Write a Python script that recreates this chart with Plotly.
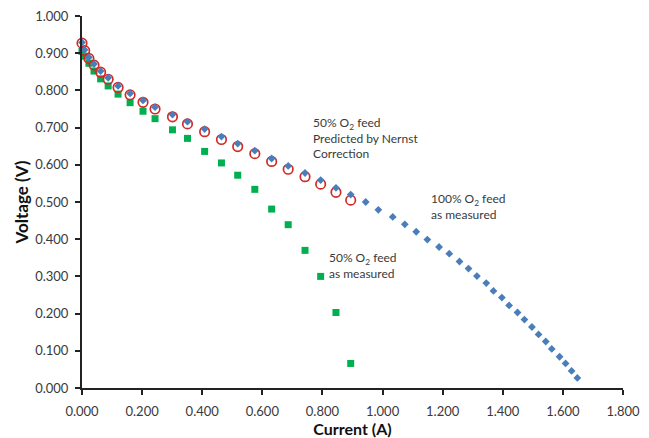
import plotly.graph_objects as go

# 100% O2 feed, as measured (blue diamonds)
current_100 = [0.000, 0.009, 0.023, 0.040, 0.062, 0.087, 0.120, 0.160, 0.203, 0.243,
               0.301, 0.351, 0.408, 0.464, 0.518, 0.575, 0.631, 0.686, 0.742, 0.794,
               0.845, 0.894, 0.944, 0.986, 1.034, 1.074, 1.112, 1.149, 1.188, 1.222,
               1.256, 1.286, 1.314, 1.345, 1.369, 1.397, 1.421, 1.449, 1.472, 1.497,
               1.519, 1.543, 1.563, 1.589, 1.609, 1.629, 1.648]
voltage_100 = [0.929, 0.909, 0.889, 0.871, 0.852, 0.834, 0.812, 0.792, 0.773, 0.755,
               0.735, 0.716, 0.696, 0.676, 0.657, 0.638, 0.617, 0.597, 0.578, 0.559,
               0.538, 0.520, 0.500, 0.479, 0.460, 0.440, 0.420, 0.399, 0.379, 0.361,
               0.340, 0.321, 0.301, 0.282, 0.261, 0.243, 0.222, 0.203, 0.184, 0.164,
               0.144, 0.125, 0.105, 0.084, 0.066, 0.046, 0.027]

# 50% O2 feed, predicted by Nernst correction (red open circles)
current_pred = [0.000, 0.009, 0.023, 0.040, 0.062, 0.087, 0.120, 0.160, 0.203, 0.243,
                0.301, 0.351, 0.408, 0.464, 0.518, 0.575, 0.631, 0.686, 0.742, 0.794,
                0.845, 0.894]
voltage_pred = [0.927, 0.907, 0.886, 0.868, 0.849, 0.830, 0.808, 0.788, 0.768, 0.750,
                0.729, 0.710, 0.689, 0.668, 0.649, 0.630, 0.609, 0.588, 0.568, 0.548,
                0.526, 0.505]

# 50% O2 feed, as measured (green squares)
current_50 = [0.000, 0.009, 0.023, 0.040, 0.062, 0.087, 0.120, 0.160, 0.203, 0.243,
              0.301, 0.351, 0.408, 0.464, 0.518, 0.575, 0.631, 0.686, 0.742, 0.794,
              0.845, 0.894]
voltage_50 = [0.905, 0.892, 0.873, 0.852, 0.831, 0.812, 0.790, 0.767, 0.744, 0.724,
              0.694, 0.671, 0.636, 0.605, 0.572, 0.534, 0.481, 0.439, 0.370, 0.300,
              0.203, 0.066]

x_ticks = [0.0, 0.2, 0.4, 0.6, 0.8, 1.0, 1.2, 1.4, 1.6, 1.8]
y_ticks = [0.0, 0.1, 0.2, 0.3, 0.4, 0.5, 0.6, 0.7, 0.8, 0.9, 1.0]

FONT = "Lato"
TXT = "#3a3a3a"

fig = go.Figure()
fig.add_trace(go.Scatter(x=current_50, y=voltage_50, mode="markers", cliponaxis=False,
                         marker=dict(symbol="square", size=7, color="#00B050"),
                         name="50% O2 feed as measured"))
fig.add_trace(go.Scatter(x=current_pred, y=voltage_pred, mode="markers", cliponaxis=False,
                         marker=dict(symbol="circle-open", size=9.5, color="#D22A25",
                                     line=dict(width=1.7, color="#D22A25")),
                         name="50% O2 feed predicted"))
fig.add_trace(go.Scatter(x=current_100, y=voltage_100, mode="markers", cliponaxis=False,
                         marker=dict(symbol="diamond", size=6, color="#4A7EBB"),
                         name="100% O2 feed as measured"))

# page has an 8px body margin; figure drawn at (8, 8)
OFF = 8
W, H = 641, 430
L, R, T, B = 74, 26, 8, 50
annots = [
    dict(x=311, y=113, text="50% O<sub>2</sub> feed<br>Predicted by Nernst<br>Correction"),
    dict(x=429, y=189, text="100% O<sub>2</sub> feed<br>as measured"),
    dict(x=327, y=248, text="50% O<sub>2</sub> feed<br>as measured"),
]
for a in annots:
    fig.add_annotation(
        x=(a["x"] - OFF - L) / (W - L - R), y=1 - (a["y"] - OFF - T) / (H - T - B),
        xref="paper", yref="paper", xanchor="left", yanchor="top",
        text=a["text"], showarrow=False, align="left",
        font=dict(family=FONT, size=12, color=TXT))

fig.update_layout(
    width=W, height=H, margin=dict(l=L, r=R, t=T, b=B, autoexpand=False),
    plot_bgcolor="white", paper_bgcolor="white", showlegend=False,
    font=dict(family=FONT, size=13, color=TXT),
)
fig.update_xaxes(range=[0, 1.8], tickvals=x_ticks, tickformat=".3f", automargin=False,
                 showline=True, linecolor="#222222", linewidth=2, showgrid=False,
                 zeroline=False, ticks="outside", ticklen=5, tickwidth=2, tickcolor="#222222",
                 ticklabelstandoff=5, ticklabeloverflow="allow",
                 title=dict(text="<b>Current (A)</b>", font=dict(family=FONT, size=16, color="#111111"),
                            standoff=2))
fig.update_yaxes(range=[0, 1.0], tickvals=y_ticks, tickformat=".3f", automargin=False,
                 showline=True, linecolor="#222222", linewidth=2, showgrid=False,
                 zeroline=False, ticks="outside", ticklen=5, tickwidth=2, tickcolor="#222222",
                 ticklabelstandoff=4, ticklabeloverflow="allow",
                 title=dict(text="<b>Voltage (V)</b>", font=dict(family=FONT, size=17, color="#111111"),
                            standoff=2))

fig.write_html("out.html")
